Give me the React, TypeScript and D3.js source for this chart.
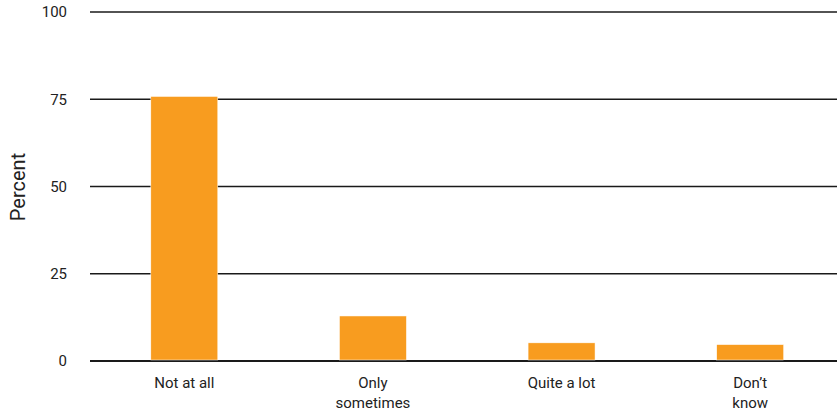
import React from "react";
import * as d3 from "d3";

const categories = [["Not at all"], ["Only", "sometimes"], ["Quite a lot"], ["Don\u2019t", "know"]];
const values = [75.8, 12.9, 5.2, 4.7];
const yTicks = [0, 25, 50, 75, 100];

export default function App() {
  const W = 837, H = 415;
  const x = d3.scaleBand<number>().domain(d3.range(values.length)).range([90, 844.5]).paddingInner(0.645).paddingOuter(0.3225);
  const y = d3.scaleLinear().domain([0, 100]).range([361, 12]);
  return (
    <svg width={W} height={H} style={{ position: "absolute", left: 0, top: 0, fontFamily: "Roboto, sans-serif" }}>
      {yTicks.map((t) => (
        <g key={t}>
          <line x1={90} x2={W} y1={y(t)} y2={y(t)} stroke="#1a1a1a" strokeWidth={t === 0 ? 2 : 1.4} />
          <text x={67} y={y(t)} dy="0.35em" textAnchor="end" fontSize={15} fill="#222">{t}</text>
        </g>
      ))}
      {values.map((v, i) => (
        <rect key={i} x={x(i)} y={y(v)} width={x.bandwidth()} height={y(0) - y(v) - 1} fill="#f89c1f" stroke="#fff" strokeWidth={0.5} />
      ))}
      {categories.map((lines, i) => (
        <text key={i} x={(x(i) as number) + x.bandwidth() / 2} y={388} textAnchor="middle" fontSize={15} fill="#222">
          {lines.map((l, j) => (
            <tspan key={j} x={(x(i) as number) + x.bandwidth() / 2} dy={j === 0 ? 0 : 20}>{l}</tspan>
          ))}
        </text>
      ))}
      <text transform={`translate(25,187) rotate(-90)`} textAnchor="middle" fontSize={20} fill="#222">Percent</text>
    </svg>
  );
}
